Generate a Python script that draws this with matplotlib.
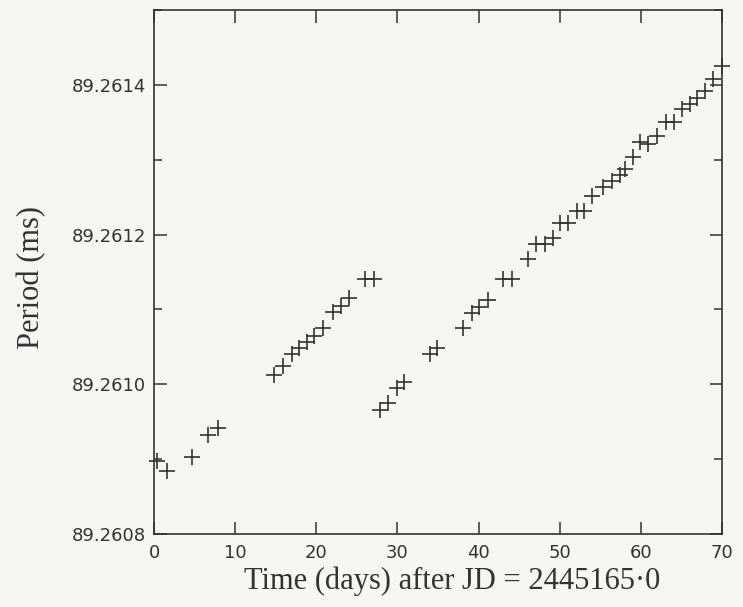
import matplotlib.pyplot as plt
from matplotlib.ticker import MultipleLocator, FormatStrFormatter

days_a = [0.4, 1.6, 4.7, 6.7, 7.9]
period_a = [89.260897, 89.260884, 89.260903, 89.260932, 89.260941]

days_b = [14.8, 15.9, 17.0, 17.9, 18.8, 19.7, 20.8, 22.1, 23.0, 24.0, 26.0, 27.1]
period_b = [89.261013, 89.261024, 89.261041, 89.261049, 89.261057, 89.261065,
            89.261075, 89.261096, 89.261104, 89.261115, 89.261141, 89.261141]

days_c = [27.9, 28.8, 29.9, 30.8, 34.0, 34.9, 38.1, 39.2, 40.1, 41.2, 43.0, 44.1,
          46.1, 47.1, 48.2, 49.2, 50.0, 51.0, 52.1, 53.0, 54.0, 55.3, 56.4, 57.4,
          58.0, 59.0, 59.9, 60.9, 62.0, 63.1, 64.1, 65.1, 66.0, 66.9, 67.9, 68.9, 70.0]
period_c = [89.260965, 89.260975, 89.260995, 89.261003, 89.261040, 89.261048,
            89.261075, 89.261095, 89.261103, 89.261112, 89.261140, 89.261140,
            89.261167, 89.261188, 89.261187, 89.261196, 89.261215, 89.261215,
            89.261232, 89.261232, 89.261252, 89.261263, 89.261271, 89.261280,
            89.261288, 89.261304, 89.261324, 89.261321, 89.261332, 89.261351,
            89.261351, 89.261368, 89.261375, 89.261383, 89.261392, 89.261408,
            89.261425]

ink = '#333333'
paper = '#f6f6f3'

fig = plt.figure(figsize=(7.43, 6.07), dpi=100, facecolor=paper)
ax = fig.add_axes([0.2073, 0.1203, 0.7644, 0.8632])
ax.set_facecolor(paper)

for d, p in [(days_a, period_a), (days_b, period_b), (days_c, period_c)]:
    ax.plot(d, p, linestyle='none', marker='+', markersize=12,
            markeredgewidth=1.2, color=ink, clip_on=False)

ax.set_xlim(0, 70)
ax.set_ylim(89.2608, 89.2615)
ax.xaxis.set_major_locator(MultipleLocator(10))
ax.yaxis.set_major_locator(MultipleLocator(0.0002))
ax.yaxis.set_minor_locator(MultipleLocator(0.0001))
ax.yaxis.set_major_formatter(FormatStrFormatter('%.4f'))

ax.tick_params(which='both', direction='in', top=True, right=True,
               color=ink, width=1.1, labelcolor=ink)
ax.tick_params(which='major', length=9)
ax.tick_params(which='minor', length=6)
ax.tick_params(axis='x', labelsize=13, pad=7)
ax.tick_params(axis='y', labelsize=13, pad=6)
for s in ax.spines.values():
    s.set_color(ink)
    s.set_linewidth(1.2)

ax.set_xlabel('Time (days) after JD = 2445165·0', family='Liberation Serif',
              fontsize=22, color=ink)
ax.xaxis.set_label_coords(0.525, -0.062)
ax.set_ylabel('Period (ms)', family='Liberation Serif', fontsize=22,
              color=ink)
ax.yaxis.set_label_coords(-0.19, 0.49)

fig.savefig('out.png', dpi=100, facecolor=paper)
